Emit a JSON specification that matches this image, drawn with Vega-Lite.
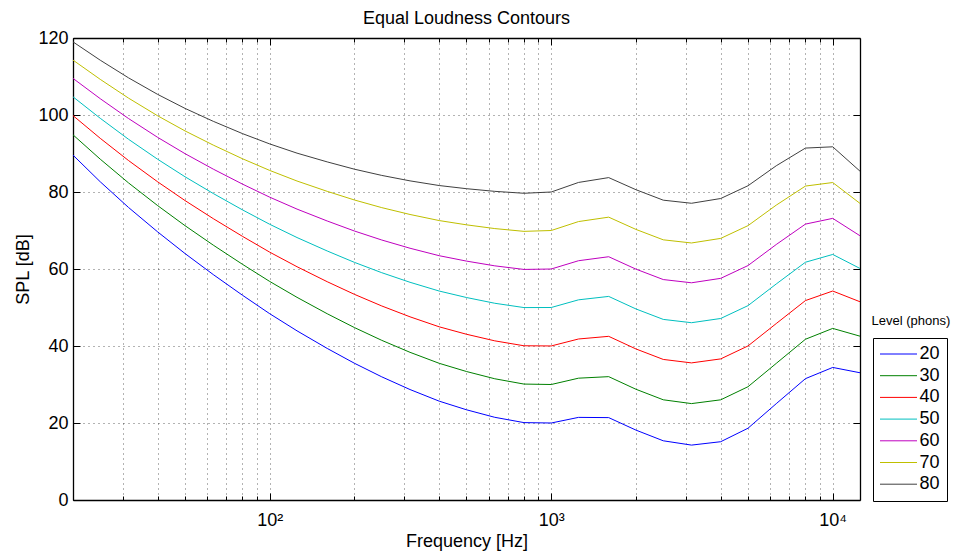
{
  "$schema": "https://vega.github.io/schema/vega-lite/v6.json",
  "width": 787,
  "height": 462,
  "autosize": "none",
  "padding": {"left": 73, "top": 38, "right": 93, "bottom": 54},
  "background": "white",
  "config": {
    "font": "Liberation Sans",
    "view": {"stroke": null},
    "axis": {
      "labelFont": "Liberation Sans",
      "titleFont": "Liberation Sans",
      "labelFontSize": 18,
      "titleFontSize": 18,
      "titleFontWeight": "normal",
      "labelColor": "#000",
      "titleColor": "#000",
      "domainColor": "#000",
      "domainWidth": 1.3,
      "tickColor": "#000",
      "tickWidth": 1
    },
    "legend": {
      "labelFont": "Liberation Sans",
      "titleFont": "Liberation Sans"
    }
  },
  "title": {
    "text": "Equal Loudness Contours",
    "fontSize": 18,
    "fontWeight": "normal",
    "font": "Liberation Sans",
    "color": "#000",
    "anchor": "middle",
    "offset": 1
  },
  "datasets": {
    "contours": [
      {"f":20,"level":"20","spl":89.58},{"f":25,"level":"20","spl":82.65},{"f":31.5,"level":"20","spl":75.98},{"f":40,"level":"20","spl":69.62},{"f":50,"level":"20","spl":64.02},{"f":63,"level":"20","spl":58.55},{"f":80,"level":"20","spl":53.19},{"f":100,"level":"20","spl":48.38},{"f":125,"level":"20","spl":43.94},{"f":160,"level":"20","spl":39.37},{"f":200,"level":"20","spl":35.51},{"f":250,"level":"20","spl":31.99},{"f":315,"level":"20","spl":28.69},{"f":400,"level":"20","spl":25.67},{"f":500,"level":"20","spl":23.43},{"f":630,"level":"20","spl":21.48},{"f":800,"level":"20","spl":20.10},{"f":1000,"level":"20","spl":20.00},{"f":1250,"level":"20","spl":21.46},{"f":1600,"level":"20","spl":21.40},{"f":2000,"level":"20","spl":18.15},{"f":2500,"level":"20","spl":15.38},{"f":3150,"level":"20","spl":14.26},{"f":4000,"level":"20","spl":15.14},{"f":5000,"level":"20","spl":18.64},{"f":6300,"level":"20","spl":25.02},{"f":8000,"level":"20","spl":31.52},{"f":10000,"level":"20","spl":34.43},{"f":12500,"level":"20","spl":33.05},
      {"f":20,"level":"30","spl":94.85},{"f":25,"level":"30","spl":88.52},{"f":31.5,"level":"30","spl":82.36},{"f":40,"level":"30","spl":76.45},{"f":50,"level":"30","spl":71.26},{"f":63,"level":"30","spl":66.20},{"f":80,"level":"30","spl":61.22},{"f":100,"level":"30","spl":56.76},{"f":125,"level":"30","spl":52.64},{"f":160,"level":"30","spl":48.38},{"f":200,"level":"30","spl":44.78},{"f":250,"level":"30","spl":41.47},{"f":315,"level":"30","spl":38.36},{"f":400,"level":"30","spl":35.50},{"f":500,"level":"30","spl":33.37},{"f":630,"level":"30","spl":31.49},{"f":800,"level":"30","spl":30.11},{"f":1000,"level":"30","spl":30.00},{"f":1250,"level":"30","spl":31.64},{"f":1600,"level":"30","spl":32.04},{"f":2000,"level":"30","spl":28.76},{"f":2500,"level":"30","spl":26.03},{"f":3150,"level":"30","spl":25.04},{"f":4000,"level":"30","spl":26.02},{"f":5000,"level":"30","spl":29.42},{"f":6300,"level":"30","spl":35.48},{"f":8000,"level":"30","spl":41.75},{"f":10000,"level":"30","spl":44.57},{"f":12500,"level":"30","spl":42.55},
      {"f":20,"level":"40","spl":99.85},{"f":25,"level":"40","spl":93.94},{"f":31.5,"level":"40","spl":88.17},{"f":40,"level":"40","spl":82.63},{"f":50,"level":"40","spl":77.78},{"f":63,"level":"40","spl":73.08},{"f":80,"level":"40","spl":68.48},{"f":100,"level":"40","spl":64.37},{"f":125,"level":"40","spl":60.59},{"f":160,"level":"40","spl":56.70},{"f":200,"level":"40","spl":53.41},{"f":250,"level":"40","spl":50.40},{"f":315,"level":"40","spl":47.58},{"f":400,"level":"40","spl":44.98},{"f":500,"level":"40","spl":43.05},{"f":630,"level":"40","spl":41.34},{"f":800,"level":"40","spl":40.06},{"f":1000,"level":"40","spl":40.01},{"f":1250,"level":"40","spl":41.82},{"f":1600,"level":"40","spl":42.51},{"f":2000,"level":"40","spl":39.23},{"f":2500,"level":"40","spl":36.51},{"f":3150,"level":"40","spl":35.61},{"f":4000,"level":"40","spl":36.65},{"f":5000,"level":"40","spl":40.01},{"f":6300,"level":"40","spl":45.83},{"f":8000,"level":"40","spl":51.80},{"f":10000,"level":"40","spl":54.28},{"f":12500,"level":"40","spl":51.49},
      {"f":20,"level":"50","spl":104.72},{"f":25,"level":"50","spl":99.14},{"f":31.5,"level":"50","spl":93.69},{"f":40,"level":"50","spl":88.49},{"f":50,"level":"50","spl":83.96},{"f":63,"level":"50","spl":79.61},{"f":80,"level":"50","spl":75.36},{"f":100,"level":"50","spl":71.61},{"f":125,"level":"50","spl":68.17},{"f":160,"level":"50","spl":64.68},{"f":200,"level":"50","spl":61.72},{"f":250,"level":"50","spl":59.04},{"f":315,"level":"50","spl":56.55},{"f":400,"level":"50","spl":54.27},{"f":500,"level":"50","spl":52.59},{"f":630,"level":"50","spl":51.10},{"f":800,"level":"50","spl":49.98},{"f":1000,"level":"50","spl":50.00},{"f":1250,"level":"50","spl":51.99},{"f":1600,"level":"50","spl":52.88},{"f":2000,"level":"50","spl":49.62},{"f":2500,"level":"50","spl":46.91},{"f":3150,"level":"50","spl":46.05},{"f":4000,"level":"50","spl":47.15},{"f":5000,"level":"50","spl":50.48},{"f":6300,"level":"50","spl":56.11},{"f":8000,"level":"50","spl":61.76},{"f":10000,"level":"50","spl":63.78},{"f":12500,"level":"50","spl":60.14},
      {"f":20,"level":"60","spl":109.51},{"f":25,"level":"60","spl":104.23},{"f":31.5,"level":"60","spl":99.08},{"f":40,"level":"60","spl":94.18},{"f":50,"level":"60","spl":89.96},{"f":63,"level":"60","spl":85.94},{"f":80,"level":"60","spl":82.05},{"f":100,"level":"60","spl":78.65},{"f":125,"level":"60","spl":75.56},{"f":160,"level":"60","spl":72.47},{"f":200,"level":"60","spl":69.86},{"f":250,"level":"60","spl":67.53},{"f":315,"level":"60","spl":65.39},{"f":400,"level":"60","spl":63.45},{"f":500,"level":"60","spl":62.05},{"f":630,"level":"60","spl":60.82},{"f":800,"level":"60","spl":59.89},{"f":1000,"level":"60","spl":60.00},{"f":1250,"level":"60","spl":62.15},{"f":1600,"level":"60","spl":63.19},{"f":2000,"level":"60","spl":59.96},{"f":2500,"level":"60","spl":57.26},{"f":3150,"level":"60","spl":56.42},{"f":4000,"level":"60","spl":57.57},{"f":5000,"level":"60","spl":60.89},{"f":6300,"level":"60","spl":66.36},{"f":8000,"level":"60","spl":71.66},{"f":10000,"level":"60","spl":73.15},{"f":12500,"level":"60","spl":68.63},
      {"f":20,"level":"70","spl":114.26},{"f":25,"level":"70","spl":109.25},{"f":31.5,"level":"70","spl":104.38},{"f":40,"level":"70","spl":99.78},{"f":50,"level":"70","spl":95.87},{"f":63,"level":"70","spl":92.18},{"f":80,"level":"70","spl":88.64},{"f":100,"level":"70","spl":85.60},{"f":125,"level":"70","spl":82.85},{"f":160,"level":"70","spl":80.17},{"f":200,"level":"70","spl":77.92},{"f":250,"level":"70","spl":75.94},{"f":315,"level":"70","spl":74.16},{"f":400,"level":"70","spl":72.58},{"f":500,"level":"70","spl":71.47},{"f":630,"level":"70","spl":70.50},{"f":800,"level":"70","spl":69.78},{"f":1000,"level":"70","spl":70.00},{"f":1250,"level":"70","spl":72.32},{"f":1600,"level":"70","spl":73.47},{"f":2000,"level":"70","spl":70.28},{"f":2500,"level":"70","spl":67.58},{"f":3150,"level":"70","spl":66.76},{"f":4000,"level":"70","spl":67.95},{"f":5000,"level":"70","spl":71.26},{"f":6300,"level":"70","spl":76.59},{"f":8000,"level":"70","spl":81.54},{"f":10000,"level":"70","spl":82.46},{"f":12500,"level":"70","spl":77.04},
      {"f":20,"level":"80","spl":118.99},{"f":25,"level":"80","spl":114.23},{"f":31.5,"level":"80","spl":109.65},{"f":40,"level":"80","spl":105.34},{"f":50,"level":"80","spl":101.72},{"f":63,"level":"80","spl":98.36},{"f":80,"level":"80","spl":95.17},{"f":100,"level":"80","spl":92.48},{"f":125,"level":"80","spl":90.09},{"f":160,"level":"80","spl":87.82},{"f":200,"level":"80","spl":85.92},{"f":250,"level":"80","spl":84.31},{"f":315,"level":"80","spl":82.89},{"f":400,"level":"80","spl":81.68},{"f":500,"level":"80","spl":80.86},{"f":630,"level":"80","spl":80.17},{"f":800,"level":"80","spl":79.67},{"f":1000,"level":"80","spl":80.00},{"f":1250,"level":"80","spl":82.48},{"f":1600,"level":"80","spl":83.74},{"f":2000,"level":"80","spl":80.59},{"f":2500,"level":"80","spl":77.88},{"f":3150,"level":"80","spl":77.07},{"f":4000,"level":"80","spl":78.31},{"f":5000,"level":"80","spl":81.62},{"f":6300,"level":"80","spl":86.81},{"f":8000,"level":"80","spl":91.41},{"f":10000,"level":"80","spl":91.74},{"f":12500,"level":"80","spl":85.41}
    ]
  },
  "data": {"name": "contours"},
  "layer": [
    {
      "mark": {"type": "line", "strokeWidth": 1, "clip": true},
      "encoding": {
        "x": {
          "field": "f",
          "type": "quantitative",
          "scale": {"type": "log", "domain": [20, 12500], "nice": false},
          "axis": {
            "orient": "bottom",
            "title": "Frequency [Hz]",
            "values": [20, 30, 40, 50, 60, 70, 80, 90, 100, 200, 300, 400, 500, 600, 700, 800, 900, 1000, 2000, 3000, 4000, 5000, 6000, 7000, 8000, 9000, 10000],
            "labelExpr": "datum.value == 100 ? '10²' : datum.value == 1000 ? '10³' : datum.value == 10000 ? '10⁴' : ''",
            "tickSize": {"condition": {"test": "datum.value == 100 || datum.value == 1000 || datum.value == 10000", "value": -7}, "value": -4},
            "labelPadding": 18,
            "labelBaseline": "top",
            "titlePadding": 0,
            "grid": true,
            "gridDash": [1, 4],
            "gridColor": "#000",
            "gridOpacity": 0.6,
            "gridWidth": 1,
            "labelFlush": false,
            "labelOverlap": false
          }
        },
        "y": {
          "field": "spl",
          "type": "quantitative",
          "scale": {"domain": [0, 120], "nice": false},
          "axis": {
            "orient": "left",
            "title": "SPL [dB]",
            "values": [0, 20, 40, 60, 80, 100, 120],
            "tickSize": -7,
            "labelPadding": 12,
            "titlePadding": 5,
            "grid": true,
            "gridDash": [1, 4],
            "gridColor": "#000",
            "gridOpacity": 0.6,
            "gridWidth": 1,
            "labelFlush": false
          }
        },
        "color": {
          "field": "level",
          "type": "nominal",
          "scale": {
            "domain": ["20", "30", "40", "50", "60", "70", "80"],
            "range": ["#0000ff", "#008000", "#ff0000", "#00bfbf", "#bf00bf", "#bfbf00", "#404040"]
          },
          "legend": {
            "orient": "none",
            "legendX": 800,
            "legendY": 300,
            "title": null,
            "symbolType": "stroke",
            "symbolSize": 1369,
            "symbolStrokeWidth": 1,
            "labelFontSize": 18,
            "labelColor": "#000",
            "labelOffset": 2,
            "clipHeight": 19,
            "rowPadding": 2.7,
            "padding": 6.5,
            "strokeColor": "#000",
            "fillColor": "#fff"
          }
        }
      }
    },
    {
      "mark": {"type": "line"},
      "encoding": {
        "x": {
          "field": "f",
          "type": "quantitative",
          "axis": {
            "orient": "top",
            "title": null,
            "labels": false,
            "grid": false,
            "values": [20, 30, 40, 50, 60, 70, 80, 90, 100, 200, 300, 400, 500, 600, 700, 800, 900, 1000, 2000, 3000, 4000, 5000, 6000, 7000, 8000, 9000, 10000],
            "tickSize": {"condition": {"test": "datum.value == 100 || datum.value == 1000 || datum.value == 10000", "value": -7}, "value": -4}
          }
        },
        "y": {
          "field": "spl",
          "type": "quantitative",
          "axis": {
            "orient": "right",
            "title": null,
            "labels": false,
            "grid": false,
            "values": [0, 20, 40, 60, 80, 100, 120],
            "tickSize": -7
          }
        },
        "detail": {"field": "level"},
        "opacity": {
          "datum": "Level (phons)",
          "type": "ordinal",
          "scale": {"range": [0, 0]},
          "legend": {
            "orient": "none",
            "legendX": 798.5,
            "legendY": 277,
            "title": "Level (phons)",
            "titleFontSize": 13,
            "titleFontWeight": "normal",
            "titleColor": "#000",
            "titlePadding": 0,
            "labelExpr": "''",
            "symbolOpacity": 0,
            "symbolSize": 1,
            "padding": 0
          }
        }
      }
    }
  ],
  "resolve": {"axis": {"x": "independent", "y": "independent"}}
}
